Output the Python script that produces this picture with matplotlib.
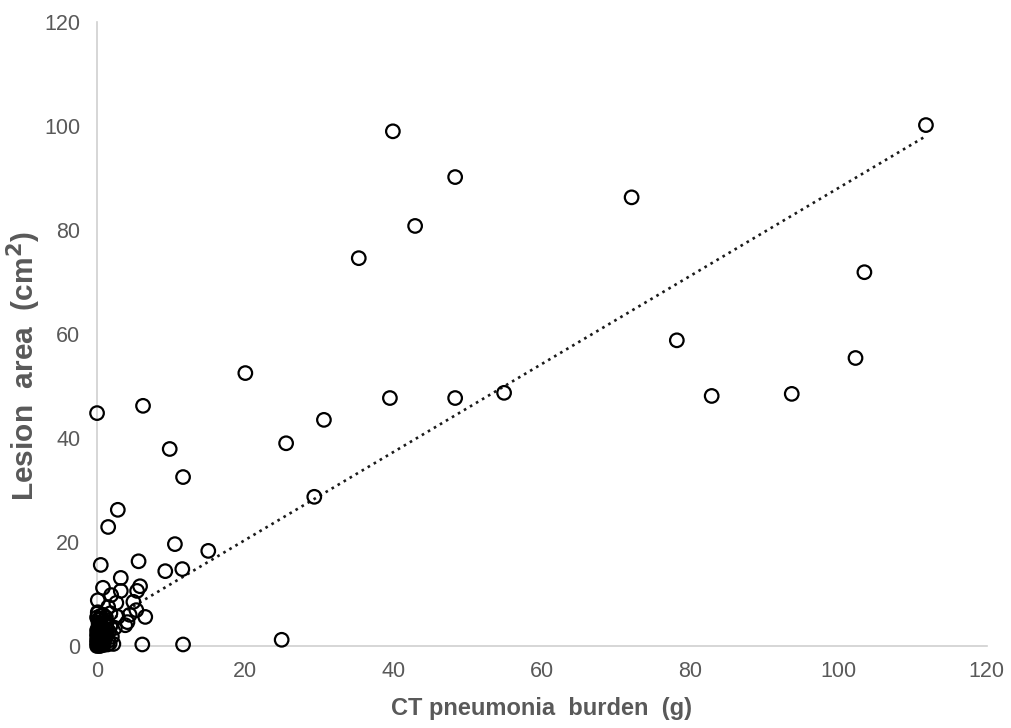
import numpy as np
import matplotlib.pyplot as plt

plt.rcParams['font.family'] = ['Liberation Sans', 'DejaVu Sans']

# CT pneumonia burden (g) vs lesion area (cm2)
burden = [
    0.0, 6.2, 9.8, 11.6, 1.5, 2.8, 0.5, 5.6, 10.5, 15.0, 9.2, 11.5,
    20.0, 25.5, 30.6, 29.3, 24.9, 11.6, 6.1, 2.2,
    35.3, 39.9, 42.9, 48.3, 39.5, 48.3, 54.9, 72.1, 78.2, 82.9, 93.7,
    102.3, 103.5, 111.8,
    3.2, 0.8, 3.2, 5.8, 5.4, 0.1, 1.9, 2.6, 4.9, 5.3, 4.4, 6.5, 0.1, 1.8,
    2.8, 3.8, 2.4, 1.5, 4.1,
    0.0, 0.1, 0.2, 0.0, 0.3, 0.1, 0.4, 0.0, 0.2, 0.5, 0.6, 0.7, 0.8, 0.5,
    0.2, 0.9, 1.0, 1.2, 1.1, 1.3, 0.4, 1.5, 1.6, 0.0, 1.4, 0.3, 0.6, 0.9,
    1.8, 2.0, 0.1, 0.8, 1.2, 0.0, 0.05, 0.15, 0.35, 0.45, 0.7, 1.7,
    0.1, 0.3, 0.5, 0.7, 0.9, 0.2, 0.4, 0.6, 0.8, 1.0, 0.0, 0.3, 0.6, 0.9,
    0.2, 0.5, 1.1, 0.4, 0.8, 1.3,
]
lesion = [
    44.8, 46.2, 37.9, 32.5, 22.9, 26.2, 15.6, 16.3, 19.6, 18.3, 14.4, 14.8,
    52.5, 39.0, 43.5, 28.7, 1.2, 0.3, 0.3, 0.4,
    74.6, 99.0, 80.8, 90.2, 47.7, 47.7, 48.7, 86.3, 58.8, 48.1, 48.5,
    55.4, 71.9, 100.2,
    13.1, 11.2, 10.6, 11.5, 10.6, 8.8, 9.8, 8.3, 8.5, 6.9, 6.0, 5.6, 6.3, 6.3,
    5.6, 4.0, 3.5, 7.5, 4.6,
    0.0, 0.3, 0.8, 1.2, 1.5, 2.0, 2.5, 3.0, 3.5, 0.5, 1.0, 2.0, 3.0, 4.0,
    4.5, 0.2, 1.2, 2.2, 3.4, 4.5, 5.2, 1.0, 2.8, 5.5, 0.3, 0.1, 2.8, 4.8,
    3.8, 1.8, 6.5, 6.0, 5.5, 0.6, 1.8, 2.6, 3.2, 0.2, 0.7, 0.5,
    0.4, 1.1, 1.7, 2.4, 3.1, 3.8, 4.2, 0.9, 1.4, 2.6, 2.2, 4.0, 3.6, 0.8,
    5.0, 5.8, 4.1, 0.0, 2.1, 3.0,
]
# linear trendline as drawn in the chart
trend_slope = 0.846
trend_intercept = 3.5
x_ticks = [0, 20, 40, 60, 80, 100, 120]
y_ticks = [0, 20, 40, 60, 80, 100, 120]

grey = '#595959'

fig = plt.figure(figsize=(10.11, 7.28), dpi=100)
ax = fig.add_axes([0.096, 0.1126, 0.88, 0.857])

x = np.array(burden)
y = np.array(lesion)
xs = np.array([x.min(), x.max()])
ax.plot(xs, trend_slope * xs + trend_intercept, linestyle=':', color='#1a1a1a',
        linewidth=1.9, zorder=2)

ax.scatter(x, y, s=95, facecolors='none', edgecolors='black', linewidths=1.6,
           zorder=3, clip_on=False)

ax.set_xlim(0, 120)
ax.set_ylim(0, 120)
ax.set_xticks(x_ticks)
ax.set_yticks(y_ticks)
ax.tick_params(length=0, labelsize=15.5, labelcolor=grey)
ax.tick_params(axis='y', pad=12)
ax.tick_params(axis='x', pad=11)
for side in ('top', 'right'):
    ax.spines[side].set_visible(False)
for side in ('left', 'bottom'):
    ax.spines[side].set_color('#d0d0d0')
    ax.spines[side].set_linewidth(1.2)

fig.text(0.536, 0.027, 'CT pneumonia  burden  (g)', ha='center', va='center',
         fontsize=17, fontweight='bold', color=grey)
fig.text(0.023, 0.498, 'Lesion  area  (cm$^\\mathbf{2}$)', ha='center', va='center',
         rotation=90, fontsize=21.5, fontweight='bold', color=grey)

fig.savefig('out.png', dpi=100)
